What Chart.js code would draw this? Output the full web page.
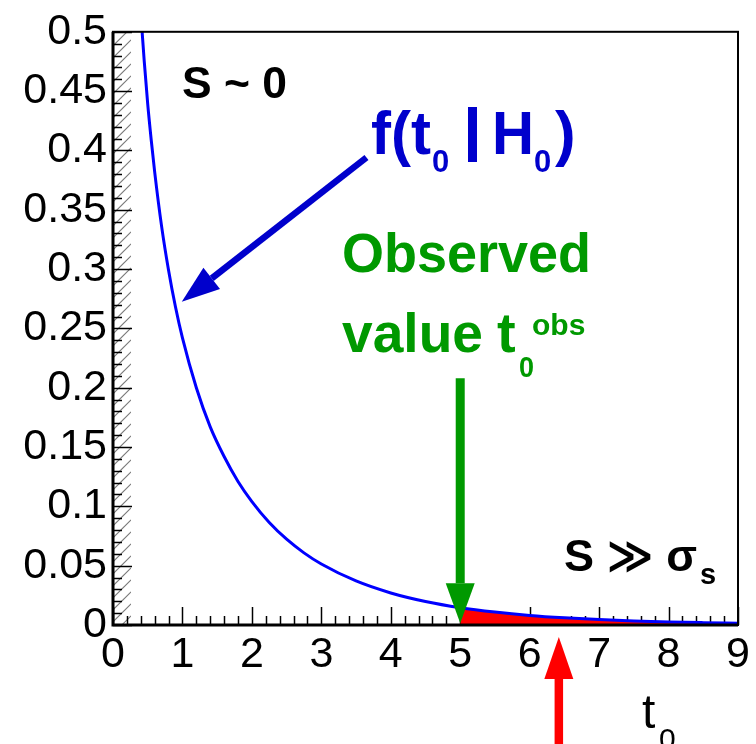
<!DOCTYPE html>
<html>
<head>
<meta charset="utf-8">
<script src="https://cdn.jsdelivr.net/npm/chart.js@4.4.1/dist/chart.umd.min.js"></script>
<style>
  html, body { margin: 0; padding: 0; background: #fff; }
  #wrap { width: 756px; height: 744px; }
</style>
</head>
<body>
<div id="wrap"><canvas id="c" width="756" height="744"></canvas></div>
<script>
// values
const tValues = [0.41, 0.45, 0.5, 0.55, 0.6, 0.7, 0.8, 0.9, 1.0, 1.2, 1.4, 1.6, 1.8, 2.0,
  2.25, 2.5, 2.75, 3.0, 3.5, 4.0, 4.5, 5.0, 5.5, 6.0, 6.5, 7.0, 7.5, 8.0, 8.5, 9.0];
const fValues = [0.508, 0.475, 0.439, 0.409, 0.382, 0.336, 0.299, 0.268, 0.242, 0.200, 0.167,
  0.142, 0.121, 0.104, 0.0864, 0.0723, 0.0608, 0.0514, 0.0371, 0.0270, 0.0198, 0.0146,
  0.0109, 0.0081, 0.0061, 0.0046, 0.0034, 0.0026, 0.0020, 0.0015];
const tObs = 5;
const xTickLabels = ['0', '1', '2', '3', '4', '5', '6', '7', '8', '9'];
const yTickLabels = ['0', '0.05', '0.1', '0.15', '0.2', '0.25', '0.3', '0.35', '0.4', '0.45', '0.5'];

const curve = tValues.map((t, i) => ({x: t, y: fValues[i]}));
const tail = curve.filter(p => p.x >= tObs);

const BLUE_TXT = 'rgb(0,0,204)';
const GREEN = 'rgb(0,153,0)';
const RED = '#ff0000';

function arrow(ctx, x1, y1, x2, y2, color, lw, headLen, headW) {
  const ang = Math.atan2(y2 - y1, x2 - x1);
  const bx = x2 - headLen * Math.cos(ang), by = y2 - headLen * Math.sin(ang);
  ctx.save();
  ctx.strokeStyle = color;
  ctx.fillStyle = color;
  ctx.lineWidth = lw;
  ctx.beginPath();
  ctx.moveTo(x1, y1);
  ctx.lineTo(bx, by);
  ctx.stroke();
  ctx.beginPath();
  ctx.moveTo(x2, y2);
  ctx.lineTo(bx + headW / 2 * Math.sin(ang), by - headW / 2 * Math.cos(ang));
  ctx.lineTo(bx - headW / 2 * Math.sin(ang), by + headW / 2 * Math.cos(ang));
  ctx.closePath();
  ctx.fill();
  ctx.restore();
}

function txt(ctx, s, x, y, font, color, maxW) {
  ctx.font = font;
  ctx.fillStyle = color;
  ctx.textAlign = 'left';
  ctx.textBaseline = 'alphabetic';
  if (maxW) ctx.fillText(s, x, y, maxW); else ctx.fillText(s, x, y);
}

// hatch band at t0 ~ 0 and inward tick marks, under the curves
const underPlugin = {
  id: 'under',
  beforeDatasetsDraw(chart) {
    const {ctx, chartArea: a, scales: {x, y}} = chart;
    const x0 = x.getPixelForValue(0), x1 = x.getPixelForValue(0.26);
    ctx.save();
    ctx.beginPath();
    ctx.rect(x0, a.top, x1 - x0, a.bottom - a.top);
    ctx.clip();
    ctx.strokeStyle = '#7a7a7a';
    ctx.lineWidth = 1.1;
    for (let yy = a.top - 40; yy < a.bottom + 40; yy += 12) {
      ctx.beginPath();
      ctx.moveTo(x0, yy + (x1 - x0));
      ctx.lineTo(x1, yy);
      ctx.stroke();
    }
    ctx.restore();

    ctx.save();
    ctx.strokeStyle = '#000';
    ctx.lineWidth = 1.5;
    for (let k = 0; k <= 45; k++) {
      const px = Math.round(x.getPixelForValue(k * 0.2)) + 0.5;
      ctx.beginPath();
      ctx.moveTo(px, a.bottom);
      ctx.lineTo(px, a.bottom - (k % 5 === 0 ? 18 : 9));
      ctx.stroke();
    }
    for (let k = 0; k <= 50; k++) {
      const py = Math.round(y.getPixelForValue(k * 0.01)) + 0.5;
      ctx.beginPath();
      ctx.moveTo(a.left, py);
      ctx.lineTo(a.left + (k % 5 === 0 ? 19 : 9), py);
      ctx.stroke();
    }
    ctx.restore();
  }
};

const framePlugin = {
  id: 'frame',
  afterDatasetsDraw(chart) {
    const {ctx, chartArea: a} = chart;
    ctx.save();
    ctx.strokeStyle = '#000';
    ctx.lineWidth = 2;
    ctx.strokeRect(a.left, a.top, a.right - a.left, a.bottom - a.top);
    ctx.lineWidth = 3;
    ctx.beginPath();
    ctx.moveTo(a.left, a.top);
    ctx.lineTo(a.left, a.bottom);
    ctx.lineTo(a.right, a.bottom);
    ctx.stroke();
    ctx.restore();
  },
  afterDraw(chart) {
    const {ctx, chartArea: a, scales: {x, y}} = chart;
    ctx.save();
    // arrows
    arrow(ctx, x.getPixelForValue(3.65), y.getPixelForValue(0.394),
      x.getPixelForValue(0.99), y.getPixelForValue(0.2725), BLUE_TXT, 6.5, 38, 27);
    arrow(ctx, x.getPixelForValue(tObs), y.getPixelForValue(0.208),
      x.getPixelForValue(tObs), y.getPixelForValue(0.0015), GREEN, 9, 40, 29);
    const rx = x.getPixelForValue(6.42);
    arrow(ctx, rx, chart.height + 2, rx, a.bottom + 12, RED, 8.5, 42, 29);

    // labels
    txt(ctx, 'S ~ 0', 182, 98, 'bold 45px "Liberation Sans", Arial, sans-serif', '#000', 105);

    const fb = 'bold 62px "Liberation Sans", Arial, sans-serif';
    const fs = 'bold 31px "Liberation Sans", Arial, sans-serif';
    txt(ctx, 'f(t', 371, 154, fb, BLUE_TXT, 60);
    txt(ctx, '0', 432, 172, fs, BLUE_TXT, 18);
    ctx.fillStyle = BLUE_TXT;
    ctx.fillRect(468, 107, 9, 55);
    txt(ctx, 'H', 492, 154, fb, BLUE_TXT, 42);
    txt(ctx, '0', 534, 172, fs, BLUE_TXT, 18);
    txt(ctx, ')', 555, 154, fb, BLUE_TXT, 24);

    const gb = 'bold 56px "Liberation Sans", Arial, sans-serif';
    const gs = 'bold 30px "Liberation Sans", Arial, sans-serif';
    txt(ctx, 'Observed', 342, 272, gb, GREEN, 249);
    txt(ctx, 'value', 342, 352, gb, GREEN, 141);
    txt(ctx, 't', 497, 352, gb, GREEN, 22);
    txt(ctx, '0', 519, 377, gs, GREEN, 15);
    txt(ctx, 'obs', 532, 335, gs, GREEN, 55);

    txt(ctx, 'S \u226B \u03C3', 564, 571, 'bold 45px "Liberation Sans", "DejaVu Sans", sans-serif', '#000', 137);
    txt(ctx, 's', 700, 584, 'bold 29px "Liberation Sans", Arial, sans-serif', '#000');

    txt(ctx, 't', 642, 728, '48px "Liberation Sans", Arial, sans-serif', '#000');
    txt(ctx, '0', 659, 749, '30px "Liberation Sans", Arial, sans-serif', '#000');
    ctx.restore();
  }
};

new Chart(document.getElementById('c'), {
  type: 'line',
  data: {
    datasets: [
      {
        label: 'f(t0|H0)',
        data: curve,
        borderColor: '#0000ff',
        borderWidth: 3,
        pointRadius: 0,
        fill: false,
        cubicInterpolationMode: 'monotone',
        order: 1
      },
      {
        label: 'p-value',
        data: tail,
        borderWidth: 0,
        borderColor: RED,
        backgroundColor: RED,
        pointRadius: 0,
        fill: 'origin',
        cubicInterpolationMode: 'monotone',
        order: 2
      }
    ]
  },
  options: {
    responsive: false,
    animation: false,
    events: [],
    layout: {padding: {left: 0, top: 25, right: 18, bottom: 0}},
    plugins: {legend: {display: false}, tooltip: {enabled: false}},
    scales: {
      x: {
        type: 'linear',
        min: 0,
        max: 9,
        grid: {display: false, drawTicks: false},
        border: {display: false},
        afterFit: s => { s.height = 119; },
        ticks: {
          stepSize: 1,
          autoSkip: false,
          maxRotation: 0,
          padding: 4,
          color: '#000',
          font: {family: '"Liberation Sans", Arial, sans-serif', size: 43},
          callback: (v, i) => xTickLabels[i]
        }
      },
      y: {
        min: 0,
        max: 0.5,
        grid: {display: false, drawTicks: false},
        border: {display: false},
        afterFit: s => { s.width = 113; },
        ticks: {
          stepSize: 0.05,
          autoSkip: false,
          padding: 6,
          color: '#000',
          font: {family: '"Liberation Sans", Arial, sans-serif', size: 43},
          callback: (v, i) => yTickLabels[i]
        }
      }
    }
  },
  plugins: [underPlugin, framePlugin]
});
</script>
</body>
</html>
